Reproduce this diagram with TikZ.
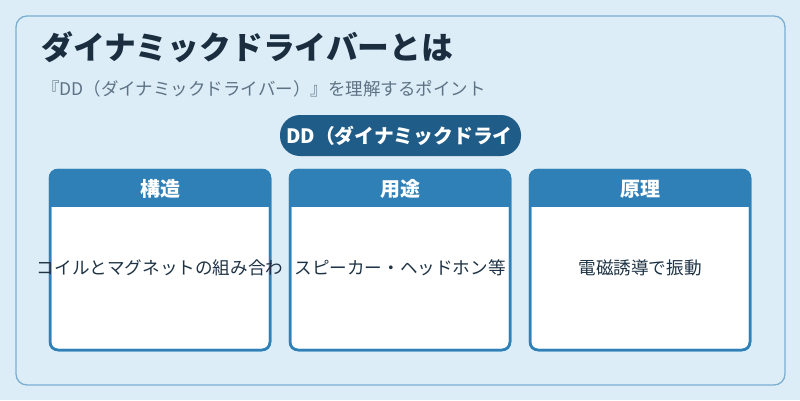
\documentclass[tikz,border=0pt]{standalone}
\usepackage{fontspec}
\setmainfont{Noto Sans CJK JP}
\newfontfamily\cjk{Noto Sans CJK JP}
\definecolor{bgc}{HTML}{DDEDF7}
\definecolor{framec}{HTML}{7BAFD2}
\definecolor{titlec}{HTML}{1A2E40}
\definecolor{subc}{HTML}{5D7385}
\definecolor{pillc}{HTML}{1F5C88}
\definecolor{headc}{HTML}{2E80B6}
\definecolor{textc}{HTML}{1E3345}
\tikzset{
  card/.style={draw=headc, line width=2.5pt, fill=white, rounded corners=8pt},
  headtext/.style={text=white, font=\cjk\bfseries\fontsize{20}{22}\selectfont, anchor=center, inner sep=0pt},
  bodytext/.style={text=textc, font=\cjk\fontsize{17.6}{20}\selectfont, anchor=center, inner sep=0pt},
}
\begin{document}
\begin{tikzpicture}[x=1pt,y=-1pt]
\fill[bgc] (0,0) rectangle (800,400);
\useasboundingbox (0,0) rectangle (800,400);
\draw[framec, line width=1.3pt, rounded corners=11pt, fill=bgc] (16,16) rectangle (785,385);
\node[anchor=base west, inner sep=0pt, text=titlec, font=\cjk\bfseries\fontsize{31.8}{34}\selectfont] (title) at (41,59) {ダイナミックドライバーとは};
\node[anchor=base west, inner sep=0pt, text=subc, font=\cjk\fontsize{17.5}{20}\selectfont] (sub) at (42,95) {『DD（ダイナミックドライバー）』を理解するポイント};
\fill[pillc, rounded corners=20pt] (280,115) rectangle (521,156);
\node[anchor=west, inner sep=0pt, text=white, font=\cjk\bfseries\fontsize{19.8}{22}\selectfont] (pill) at (286,135.5) {DD（ダイナミックドライ};
\foreach \x/\h/\b/\n in {50/構造/コイルとマグネットの組み合わ/a, 290/用途/スピーカー・ヘッドホン等/b, 530/原理/電磁誘導で振動/c} {
  \draw[card] (\x,170) rectangle ++(220,180);
  \begin{scope}
    \clip[rounded corners=8pt] (\x,170) rectangle ++(220,180);
    \fill[headc] (\x,170) rectangle ++(220,37);
  \end{scope}
  \draw[headc, line width=2.5pt, rounded corners=8pt] (\x,170) rectangle ++(220,180);
  \node[headtext] (h\n) at (\x+110,189) {\h};
  \node[bodytext] (t\n) at (\x+110,268) {\b};
}
\end{tikzpicture}
\end{document}
